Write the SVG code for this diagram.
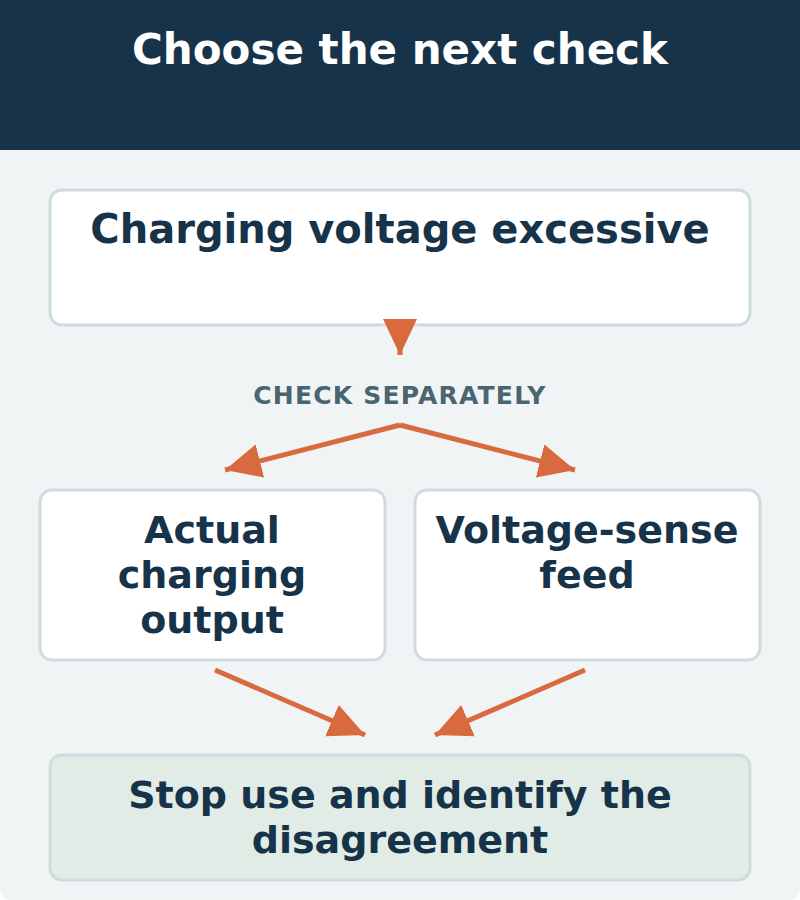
<svg xmlns="http://www.w3.org/2000/svg" width="800" height="900" viewBox="0 0 800 900">
<style>
.box{fill:#fff;stroke:#cfdcdf;stroke-width:3}
.t{font-family:"DejaVu Sans",sans-serif;font-weight:bold;font-size:38px;fill:#163349;text-anchor:middle}
.c{stroke:#d9693e;stroke-width:5;fill:none;marker-end:url(#a)}
</style>
<defs>
<marker id="a" markerUnits="userSpaceOnUse" markerWidth="36" markerHeight="36" viewBox="0 0 36 36" refX="36" refY="18" orient="auto">
<path d="M0,1 L36,18 L0,35 Z" fill="#d9693e"/>
</marker>
</defs>
<path d="M0,0 H800 V888 Q800,900 788,900 H12 Q0,900 0,888 Z" fill="#f0f4f5"/>
<rect x="0" y="0" width="800" height="150" fill="#163349"/>
<text x="400" y="64" class="t" style="fill:#fff;font-size:42px">Choose the next check</text>
<g id="n1"><rect class="box" x="50" y="190" width="700" height="135" rx="12"/>
<text class="t" x="400" y="243" style="font-size:40px">Charging voltage excessive</text></g>
<text x="400" y="404" style="font-family:'DejaVu Sans',sans-serif;font-weight:bold;font-size:25px;letter-spacing:1.2px;fill:#4a6470;text-anchor:middle">CHECK SEPARATELY</text>
<g id="n2"><rect class="box" x="40" y="490" width="345" height="170" rx="12"/>
<text class="t" x="212" y="543">Actual</text><text class="t" x="212" y="588">charging</text><text class="t" x="212" y="633">output</text></g>
<g id="n3"><rect class="box" x="415" y="490" width="345" height="170" rx="12"/>
<text class="t" x="587" y="543">Voltage-sense</text><text class="t" x="587" y="588">feed</text></g>
<g id="n4"><rect class="box" x="50" y="755" width="700" height="125" rx="12" style="fill:#e1ece6"/>
<text class="t" x="400" y="808">Stop use and identify the</text><text class="t" x="400" y="853">disagreement</text></g>
<g id="connectors">
<path class="c" d="M400,320 V355"/>
<path class="c" d="M400,425 L225,470"/>
<path class="c" d="M400,425 L575,470"/>
<path class="c" d="M215,670 L365,735"/>
<path class="c" d="M585,670 L435,735"/>
</g>
</svg>
